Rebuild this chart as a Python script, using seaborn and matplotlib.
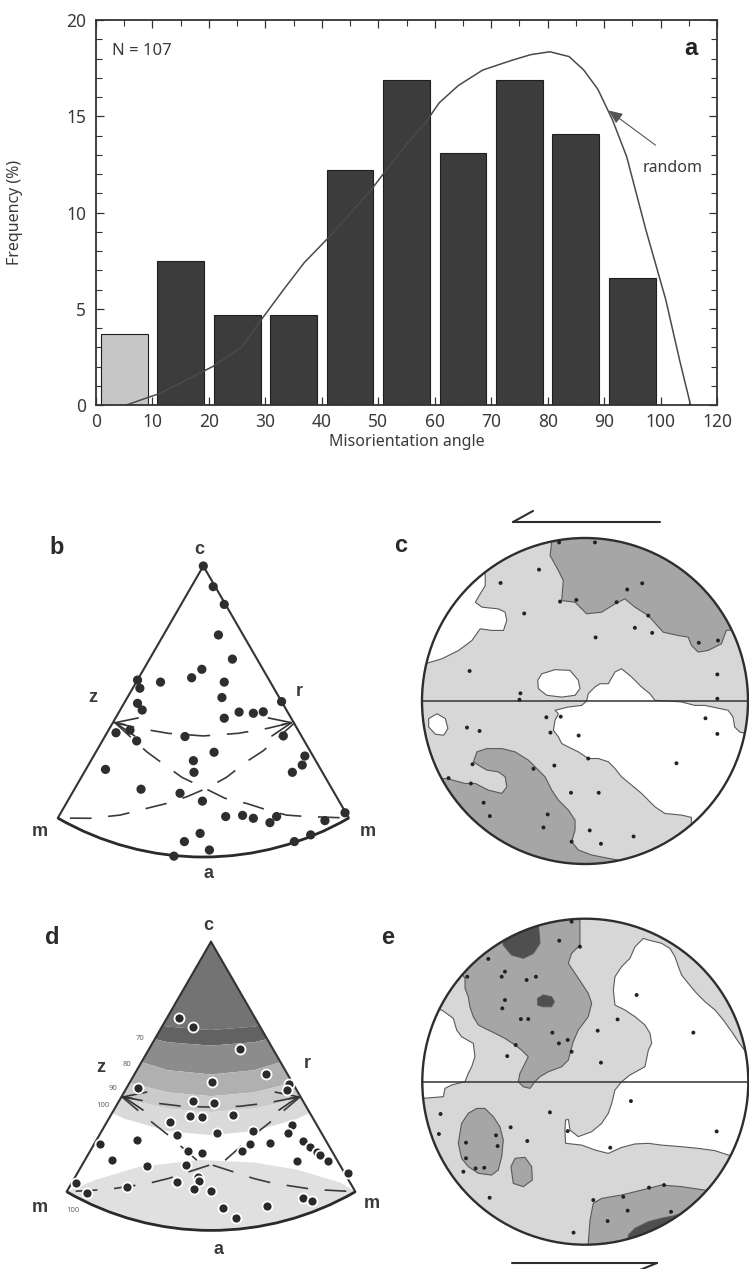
import numpy as np
import pandas as pd
import matplotlib
matplotlib.use("Agg")
import matplotlib.pyplot as plt
import seaborn as sns
from matplotlib.patches import Wedge, Circle, Polygon, Arc
from matplotlib.ticker import MultipleLocator, FixedLocator

# ---------------- panel a data ----------------
bin_centers = [5, 15, 25, 35, 45, 55, 65, 75, 85, 95]
freq = [3.7, 7.5, 4.7, 4.7, 12.2, 16.9, 13.1, 16.9, 14.1, 6.6]
bin_group = ["low"] + ["high"] * 9
random_x = [5.4, 8.8, 11.3, 17.3, 20.7, 25.8, 29.2, 33.5, 36.9, 41.2, 44.6, 48.8, 51.4,
            55.7, 58.2, 60.8, 64.2, 68.5, 73.6, 77.0, 80.4, 83.8, 86.4, 88.9, 91.5,
            94.0, 97.4, 100.9, 103.4, 105.1, 105.3]
random_y = [0.0, 0.35, 0.6, 1.5, 2.0, 3.0, 4.4, 6.1, 7.4, 8.7, 9.8, 11.2, 12.2,
            13.8, 14.6, 15.7, 16.6, 17.4, 17.9, 18.2, 18.35, 18.1, 17.4, 16.4, 14.8,
            12.9, 9.1, 5.5, 2.3, 0.26, 0.0]
xtick_vals = [0, 10, 20, 30, 40, 50, 60, 70, 80, 90, 100, 110]
xtick_labels = ["0", "10", "20", "30", "40", "50", "60", "70", "80", "90", "100", "120"]
ytick_vals = [0, 5, 10, 15, 20]

# ---------------- panel b (inverse pole figure, % of radius, apex at 0,0, y down) ----------------
b_x = [0, 3.4, 7.2, 5.2, 10, -0.5, -4, -14.7, -22.6, -21.8, 7.2, 6.4, -22.6, -21, 12.3, 17.2,
       20.6, 26.9, 7.2, -30, -25.2, -22.9, -6.3, 27.5, 3.7, -3.4, -3.2, 34.9, 34, 30.6, -33.6,
       -21.4, -8, -0.3, 7.7, 13.5, 17.2, 22.9, 25.2, 41.8, 48.7, -1.1, -6.5, 2.1, -10.1, 31.3, 36.9]
b_y = [0, 7.1, 13.2, 23.7, 32, 35.5, 38.4, 39.9, 39.2, 42, 39.9, 45.2, 47.2, 49.5, 50.2, 50.6,
       50.1, 46.6, 52.3, 57.3, 56.4, 60.1, 58.6, 58.4, 64, 66.9, 70.9, 65.3, 68.4, 70.9, 69.9,
       76.7, 78.1, 80.8, 86.1, 85.7, 86.7, 88.2, 86.1, 87.5, 84.8, 91.9, 94.7, 97.6, 99.7, 94.7, 92.4]
b_zr_x = [-31, -22, -12, 0, 12, 22, 31]
b_zr_y = [53.7, 55.8, 57.5, 58.4, 57.5, 55.8, 53.7]
b_l1_x = [-30.4, -19.5, -13.2, -7.4, -1.1, 7.4, 14.9, 21.8, 28.6, 35.5, 50]
b_l1_y = [53.8, 63.8, 68.4, 72.6, 75.6, 79.8, 81.6, 83.8, 85.6, 86.1, 86.6]
b_l2_x = [31.5, 20.6, 14.9, 8, 1.1, -5.7, -12.6, -19.5, -28.6, -38.9, -50]
b_l2_y = [53.8, 63.5, 67.2, 72.6, 76.4, 79.3, 81.6, 83.3, 85.6, 86.7, 86.6]

# ---------------- panel d ----------------
d_x = [-11.1, -6.1, 10.2, 19.1, 0.5, -25.2, 27.1, 26.4, -6.1, 1.2, -7.4, -3, 7.5, -14.2, 28.2,
       -11.7, 2, 14.7, 26.6, -38.5, -25.8, 13.5, 20.4, 32, 34.3, 36.6, 37.8, 40.6, -7.9, -3,
       10.6, -34.4, -22.3, -8.8, 29.7, -4.4, -4, -11.9, -5.9, -0.1, -46.9, -43.1, -29.2, 47.6,
       32, 34.9, 19.3, 4, 8.7]
d_y = [26.3, 29.4, 37.3, 45.8, 48.7, 50.8, 49.4, 51.4, 55.2, 56, 60.3, 60.6, 60, 62.4, 63.5,
       67, 66.4, 65.6, 66.4, 69.9, 68.7, 69.9, 69.6, 68.9, 71, 72.7, 73.9, 75.9, 72.5, 73.3,
       72.5, 75.6, 77.7, 77.4, 75.9, 81.4, 82.8, 83.1, 85.8, 86.3, 83.5, 87, 84.9, 80, 88.9,
       89.7, 91.5, 92.4, 95.8]
d_zr_x = [-31, -20, -10, 0, 10, 20, 31]
d_zr_y = [53.6, 55.8, 57, 57.3, 57, 55.8, 53.6]
d_l1_x = [-30.9, -20, -14.8, -5, 7.7, 14.7, 21.6, 35.5, 50]
d_l1_y = [53.7, 62.9, 67, 75.6, 79.7, 82, 83.7, 85.8, 86.6]
d_l2_x = [30.9, 20, 14.8, 5, -7.7, -14.7, -21.6, -35.5, -50]
d_l2_y = [53.7, 62.9, 67, 75.6, 79.7, 82, 83.7, 85.8, 86.6]
band_x = [-60, -45, -30, -15, 0, 15, 30, 45, 60]
band_bounds = [
    [-10, -10, -10, -10, -10, -10, -10, -10, -10],
    [10.8, 19.5, 25.6, 29.4, 30.6, 29.4, 25.6, 19.5, 10.8],
    [17.3, 25.5, 31.3, 34.8, 36.0, 34.8, 31.3, 25.5, 17.3],
    [21.5, 32.2, 39.9, 44.5, 46.0, 44.5, 39.9, 32.2, 21.5],
    [33.3, 42.1, 48.4, 52.2, 53.5, 52.2, 48.4, 42.1, 33.3],
    [40.5, 48.6, 54.4, 57.8, 59.0, 57.8, 54.4, 48.6, 40.5],
    [44.0, 54.1, 61.3, 65.6, 67.0, 65.6, 61.3, 54.1, 44.0],
]
band_colors = ["#737373", "#626262", "#8c8c8c", "#b0b0b0", "#cacaca", "#dadada"]
lens_x = [-55, -50, -40, -25, -4, 15, 30, 45, 50, 55]
lens_y = [88, 86.6, 82.5, 78, 75.6, 76.5, 79, 83.5, 86.6, 88]
d_contour_labels = ["70", "80", "90", "100", "100"]
d_contour_lx = [-24.6, -29.1, -33.9, -37.4, -47.8]
d_contour_ly = [33.4, 42.4, 50.7, 56.6, 93.0]

# ---------------- panel c (stereonet, % of radius, y up) ----------------
c_white = [
    [(-98, 22.9), (-87.8, 25.9), (-77.6, 31), (-69.4, 37.1), (-64.3, 44.3), (-57.1, 43.3),
     (-50, 43.3), (-48, 49.4), (-49, 54.5), (-53.1, 56.5), (-63.3, 57.6), (-67.3, 60.6),
     (-64.3, 65.7), (-61.2, 70.8), (-61.2, 76.9), (-62, 90), (-110, 90), (-110, 22)],
    [(-26.5, 16.7), (-18.4, 19.2), (-9.2, 18.8), (-4.1, 12.7), (-3.1, 7.6), (-6.1, 3.5),
     (-14.3, 2.4), (-23.5, 3.5), (-28.6, 7.6), (-29, 12.7)],
    [(-95.9, -10.8), (-90.8, -7.8), (-85.7, -10.8), (-84.1, -16.9), (-86.7, -21), (-91.8, -20.4),
     (-95.9, -15.9)],
    [(1, 0), (2, 4.5), (6.1, 8.6), (9.2, 10.6), (14.3, 10.6), (18.4, 17.8), (22.4, 19.8),
     (28.6, 14.7), (34.7, 8.6), (39.8, 4.5), (42.9, 0.4), (51, 0), (59.2, -0.6), (67.3, -2.7),
     (73.5, -2.7), (87.8, -5.7), (90.8, -9.8), (91.8, -15.9), (94.9, -19), (100, -20.4),
     (115, -20), (115, -85), (65, -85), (65.3, -71.4), (59.2, -70), (49, -69), (42.9, -64.9),
     (38.8, -60.8), (34.7, -56.7), (28.6, -51.6), (22.4, -46.5), (18.4, -41.4), (14.3, -37.3),
     (8.2, -35.3), (2, -35.3), (-4.1, -31.2), (-10.2, -28.2), (-14.3, -26.1), (-16.3, -22),
     (-19.4, -18), (-18.4, -11.8), (-16.3, -7.8), (-18.4, -5.7), (-14.3, -4.7), (-10.2, -3.7),
     (-2, -2.7)],
]
c_mid = [
    [(-20.4, 110), (-20.4, 98.4), (-21.4, 89.2), (-16.3, 80), (-13.3, 73.9), (-14.3, 61.6),
     (-6.1, 60.6), (1, 53.5), (10.2, 54.5), (18.4, 59.6), (24.5, 62.7), (30.6, 57.6),
     (38.8, 52.4), (48, 42.2), (57.1, 40.2), (63.3, 39.2), (65.3, 34.1), (69.4, 30),
     (75.5, 31), (83.7, 35.1), (86.7, 43.3), (110, 45), (110, 110)],
    [(-84.7, -47.6), (-73.5, -50.6), (-67.3, -50.6), (-59.2, -54.7), (-51, -56.7), (-48, -52.7),
     (-49, -46.5), (-53.1, -43.5), (-60.2, -42.4), (-65.3, -39.4), (-68.4, -37.3), (-66.3, -31.2),
     (-60.2, -29.2), (-51, -29.2), (-42.9, -31.2), (-34.7, -36.3), (-28.6, -42.4), (-24.5, -46.5),
     (-20.4, -54.7), (-16.3, -60.8), (-10.2, -66.9), (-6.1, -73.1), (-6.1, -79.2), (-8.2, -86.3),
     (-4.1, -91.4), (4.1, -94.5), (14.3, -96.5), (20.4, -97.6), (20, -115), (-110, -115),
     (-110, -48)],
]
c_dark = []
c_dot_u = [-15.9, 6.1, -28.2, -51.8, 35.1, 25.9, -5.3, -15.3, 19.4, -37.3, 38.8, 30.6, 41.2,
           6.5, 69.8, 81.6, -70.8, 81.2, -39.6, -40.2, 81.2, -23.7, -14.9, -72.4, -64.7, -21.2,
           -3.9, 73.9, 81.2, 56.1, -69, 2, -31.6, -18.8, -83.7, -70, -62.2, -58.4, -22.9, -8.6,
           8.4, -25.5, 2.9, 9.8, 29.8, -8.2]
c_dot_v = [97.3, 97.3, 80.6, 72.4, 72.2, 68.4, 62, 61, 60.6, 53.7, 52.4, 44.9, 41.8, 39, 35.7,
           37.1, 18.4, 16.3, 4.7, 0.8, 1.4, -10, -9.6, -16.3, -18.4, -19.4, -21.2, -10.6, -20.2,
           -38.2, -38.8, -35.3, -41.6, -39.6, -47.3, -50.6, -62.4, -70.6, -69.6, -56.3, -56.3,
           -77.6, -79.4, -87.6, -83.1, -86.3]

# ---------------- panel e ----------------
e_white = [
    [(35.6, 87.9), (38.7, 86.9), (46.8, 84.9), (51.9, 81.8), (55, 76.7), (57.1, 70.6), (59.1, 65.4),
     (63.2, 60.3), (68.3, 54.2), (73.4, 49.1), (79.6, 44), (84.7, 37.8), (89.8, 30.7), (93.9, 24.5),
     (99, 17.4), (115, 17), (115, -46), (87.7, -45), (79.6, -42.3), (69.3, -40.9), (59.1, -39.9),
     (46.8, -38.9), (38.7, -37.8), (30.5, -38.2), (22.3, -40.3), (14.1, -44), (5.9, -41.9),
     (-2.2, -38.9), (-12.1, -37.8), (-12.5, -29.7), (-12.1, -23.5), (-10.4, -23.1), (-9.4, -29.7),
     (-4.3, -33.7), (3.9, -30.7), (10, -25.6), (14.1, -19.4), (16.2, -13.3), (18.2, -5.1),
     (22.3, 0), (27.4, 4.1), (36.6, 9.2), (38.7, 19.4), (40.7, 23.5), (39.7, 29.7), (36.6, 34.8),
     (30.5, 39.9), (24.3, 44), (18.2, 47), (17.2, 56.2), (18.2, 64.4), (22.3, 70.6), (27.4, 75.7),
     (30.5, 82.8)],
    [(-88.1, 44), (-81, 38.9), (-78.9, 31.7), (-75.9, 27.6), (-68.7, 23.5), (-67.7, 15.3),
     (-69.7, 9.2), (-71.8, 5.1), (-73.8, 0), (-82, -2), (-86.1, -4.1), (-87.1, -9.2),
     (-99.4, -10.2), (-115, -10), (-115, 44)],
]
e_mid = [
    [(-3.3, 109), (-3.3, 99.2), (-3.3, 91), (-3.3, 83.8), (-8.4, 78.7), (-10.4, 72.6), (-6.3, 66.5),
     (-2.2, 60.3), (1.8, 54.2), (3.9, 48.1), (1.8, 39.9), (-1.2, 35.8), (-4.3, 31.7), (-7.4, 24.5),
     (-8.8, 19.4), (-10.4, 13.3), (-14.5, 9.2), (-22.7, 6.1), (-27.8, 3.1), (-30.9, 0),
     (-33.9, -4.1), (-38, -3.1), (-41.1, 0), (-40.1, 5.1), (-37, 11.2), (-35, 15.3), (-39.1, 19.4),
     (-43.1, 22.5), (-49.3, 26.6), (-55.4, 29.7), (-61.6, 32.7), (-65.6, 34.8), (-68.7, 39.9),
     (-70.8, 46), (-71.8, 52.1), (-73.8, 57.3), (-73.8, 63.4), (-75.9, 66.5), (-84, 74.6),
     (-43.1, 109)],
    [(-77.9, -37.8), (-75.9, -25.6), (-71.8, -19.4), (-66.7, -16.4), (-61.6, -16.4), (-56.4, -21.5),
     (-52.4, -27.6), (-50.3, -35.8), (-51.3, -46), (-53.4, -54.2), (-57.5, -57.3), (-65.6, -56.2),
     (-71.8, -52.1), (-75.9, -47)],
    [(-45.6, -52.1), (-43.1, -47), (-37, -46.4), (-32.9, -52.1), (-32.5, -60.3), (-38, -64.4),
     (-44.2, -62.4)],
    [(1.8, -99.2), (2.9, -84.9), (4.9, -74.6), (10, -71.6), (22.3, -69.5), (34.6, -66.5),
     (46.8, -63.4), (59.1, -64.4), (73.4, -66.5), (90, -66), (90, -115), (2, -115)],
]
e_dark = [
    [(-50.3, 83.8), (-51.3, 90), (-43.1, 97.1), (-28.8, 97.1), (-27.8, 84.9), (-31.9, 78.7),
     (-38, 75.7), (-45.2, 77.7)],
    [(-29.2, 51.1), (-25.8, 53.2), (-20.7, 52.1), (-19, 49.1), (-20.7, 46), (-25.8, 46), (-29.2, 47)],
    [(26.4, -94.1), (30.5, -90), (38.7, -85.9), (46.8, -83.8), (54, -82.4), (62, -80), (62, -115),
     (26, -115)],
]
e_dot_u = [-8.4, -16, -3.3, -59.5, -49.3, -51.3, -72.4, -36, -30.3, -49.3, -50.9, -39.5, -35,
           31.5, 19.8, 7.6, 66.3, -20.2, -16.2, -10.8, -8.4, -42.7, -47.9, 9.6, 28, -88.8, -21.7,
           -45.8, 80.6, -89.8, -10.8, -73.2, -54.8, -53.8, -35.6, 15.3, -73.2, -67.3, -62, -74.8,
           -58.7, 39.1, 48.3, 23.3, 4.9, 26, 13.7, 52.6, -7.2]
e_dot_v = [98.2, 86.5, 82.8, 75.3, 67.5, 64.4, 64.4, 62.4, 64.4, 50.1, 45, 38.4, 38.4, 53.2,
           38.2, 31.3, 30.1, 30.1, 23.5, 25.6, 18.4, 22.5, 15.7, 11.7, -11.9, -19.8, -18.8, -28,
           -30.5, -32.1, -30.3, -37.4, -32.9, -39.5, -36.4, -40.5, -47, -53.2, -52.8, -55.2,
           -71.2, -65, -63.4, -70.6, -72.6, -79.1, -85.5, -79.8, -92.6]

# ---------------- figure ----------------
W, H = 749, 1269
sns.set_theme(style="white")
plt.rcParams["font.family"] = ["Noto Sans", "DejaVu Sans"]
BOLD = ["Liberation Sans", "DejaVu Sans"]
TXT = "#3a3a3a"
fig = plt.figure(figsize=(W / 100, H / 100), dpi=100)


def px_axes(x0, y0, x1, y1):
    ax = fig.add_axes([x0 / W, 1 - y1 / H, (x1 - x0) / W, (y1 - y0) / H])
    ax.patch.set_alpha(0)
    return ax


def set_limits(ax, box, cx, cy, s, ydown):
    x0, y0, x1, y1 = box
    ax.set_xlim((x0 - cx) / s, (x1 - cx) / s)
    if ydown:
        ax.set_ylim((y1 - cy) / s, (y0 - cy) / s)
    else:
        ax.set_ylim((cy - y1) / s, (cy - y0) / s)
    ax.axis("off")


# ---- panel a ----
axA = px_axes(96, 20, 717, 405)
dfa = pd.DataFrame({"center": bin_centers, "freq": freq, "group": bin_group})
sns.barplot(data=dfa, x="center", y="freq", hue="group",
            palette={"low": "#c6c6c6", "high": "#3c3c3c"}, native_scale=True,
            width=0.83, dodge=False, legend=False, edgecolor="#1e1e1e", linewidth=0.8,
            saturation=1, ax=axA)
sns.lineplot(x=random_x, y=random_y, ax=axA, color="#4a4a4a", linewidth=1.1,
             sort=False, estimator=None)
axA.set_xlim(0, 110)
axA.set_ylim(0, 20)
axA.xaxis.set_major_locator(FixedLocator(xtick_vals))
axA.set_xticklabels(xtick_labels)
axA.xaxis.set_minor_locator(MultipleLocator(5))
axA.yaxis.set_major_locator(FixedLocator(ytick_vals))
axA.yaxis.set_minor_locator(MultipleLocator(1))
axA.tick_params(which="both", direction="in", top=True, right=True, bottom=True, left=True,
                colors="#333333", labelcolor=TXT, labelsize=12.5)
axA.tick_params(which="major", length=6, width=0.9)
axA.tick_params(which="minor", length=4, width=0.8)
axA.tick_params(axis="x", pad=6)
axA.tick_params(axis="y", pad=7)
for sp in axA.spines.values():
    sp.set_color("#333333")
    sp.set_linewidth(1.3)
axA.set_xlabel("Misorientation angle", fontsize=11.5, color=TXT)
axA.set_ylabel("Frequency (%)", fontsize=11.5, color=TXT)
axA.xaxis.set_label_coords(0.5, -(434 - 405) / 385)
axA.yaxis.set_label_coords(-(96 - 23) / 621, 0.5)
axA.text(2.8, 18.4, "N = 107", fontsize=12, color=TXT, ha="left", va="center")
axA.text(105.3, 18.5, "a", fontsize=17, fontweight="bold", family=BOLD, color="#222222",
         ha="center", va="center")
axA.annotate("", xy=(90.8, 15.3), xytext=(99.1, 13.5),
             arrowprops=dict(arrowstyle="-|>,head_length=0.7,head_width=0.3",
                             color="#555555", lw=0.8, shrinkA=0, shrinkB=0))
axA.text(102.1, 12.3, "random", fontsize=11.5, color=TXT, ha="center", va="center")


# ---- sector panels ----
def draw_sector(ax, px, py, zr, l1, l2, dot_kw, bands=False):
    clip = Wedge((0, 0), 100, 60, 120, transform=ax.transData)
    if bands:
        for i, col in enumerate(band_colors):
            top = band_bounds[i]
            bot = band_bounds[i + 1]
            pts = list(zip(band_x, top)) + list(zip(band_x[::-1], bot[::-1]))
            pg = Polygon(pts, closed=True, facecolor=col, edgecolor="none", zorder=1)
            ax.add_patch(pg)
            pg.set_clip_path(clip)
        pts = list(zip(lens_x, lens_y)) + [(60, 115), (-60, 115)]
        pg = Polygon(pts, closed=True, facecolor="#e0e0e0", edgecolor="none", zorder=1)
        ax.add_patch(pg)
        pg.set_clip_path(clip)
    ax.plot([0, -50], [0, 86.6], color="#333333", lw=1.5, zorder=3, solid_capstyle="round")
    ax.plot([0, 50], [0, 86.6], color="#333333", lw=1.5, zorder=3, solid_capstyle="round")
    ax.add_patch(Arc((0, 0), 200, 200, theta1=60, theta2=120, color="#2a2a2a", lw=2.0, zorder=3))
    for xs, ys in (zr, l1, l2):
        ax.plot(xs, ys, color="#3a3a3a", lw=1.2, dashes=(13, 10), zorder=2)
    z = (zr[0][0], zr[1][0])
    r = (zr[0][-1], zr[1][-1])
    ap = dict(arrowstyle="->,head_length=1.3,head_width=0.55", color="#333333", lw=1.2,
              shrinkA=0, shrinkB=0)
    ax.annotate("", xy=z, xytext=(z[0] + 4, z[1] + 0.8), arrowprops=ap, zorder=4)
    ax.annotate("", xy=r, xytext=(r[0] - 4, r[1] + 0.8), arrowprops=ap, zorder=4)
    sns.scatterplot(x=px, y=py, ax=ax, legend=False, zorder=5, **dot_kw)


boxB = (20, 530, 390, 895)
axB = px_axes(*boxB)
draw_sector(axB, b_x, b_y, (b_zr_x, b_zr_y), (b_l1_x, b_l1_y), (b_l2_x, b_l2_y),
            dict(color="#2e2e2e", s=44, edgecolor="none"))
set_limits(axB, boxB, 203.3, 566, 2.91, True)

boxD = (20, 900, 390, 1269)
axD = px_axes(*boxD)
draw_sector(axD, d_x, d_y, (d_zr_x, d_zr_y), (d_l1_x, d_l1_y), (d_l2_x, d_l2_y),
            dict(color="#2a2a2a", s=52, edgecolor="white", linewidth=1.3), bands=True)
for lab, lx, ly in zip(d_contour_labels, d_contour_lx, d_contour_ly):
    axD.text(lx, ly, lab, fontsize=5.5, color="#666666", ha="center", va="center")
set_limits(axD, boxD, 211, 941.7, 2.887, True)


# ---- stereonets ----
def draw_net(ax, whites, mids, darks, du, dv):
    base = Circle((0, 0), 100, facecolor="#d7d7d7", edgecolor="none", zorder=0)
    ax.add_patch(base)
    clip = Circle((0, 0), 100, transform=ax.transData)
    for group, col in ((whites, "white"), (mids, "#a6a6a6"), (darks, "#4f4f4f")):
        for pts in group:
            pg = Polygon(pts, closed=True, facecolor=col, edgecolor="#5a5a5a", lw=0.8, zorder=1)
            ax.add_patch(pg)
            pg.set_clip_path(clip)
    ax.add_patch(Circle((0, 0), 100, facecolor="none", edgecolor="#2e2e2e", lw=1.7, zorder=3))
    ax.plot([-100, 100], [0, 0], color="#333333", lw=1.1, zorder=3)
    sns.scatterplot(x=du, y=dv, ax=ax, color="#222222", s=8, edgecolor="none",
                    legend=False, zorder=4)


boxC = (380, 495, 749, 880)
axC = px_axes(*boxC)
draw_net(axC, c_white, c_mid, c_dark, c_dot_u, c_dot_v)
axC.plot([-44.2, 46], [109.8, 109.8], color="#2e2e2e", lw=1.5, clip_on=False)
axC.plot([-44.2, -31.9], [109.8, 116.6], color="#2e2e2e", lw=1.5, clip_on=False)
set_limits(axC, boxC, 585, 701, 1.63, False)

boxE = (380, 885, 749, 1269)
axE = px_axes(*boxE)
draw_net(axE, e_white, e_mid, e_dark, e_dot_u, e_dot_v)
axE.plot([-45, 44], [-111.2, -111.2], color="#2e2e2e", lw=1.5, clip_on=False)
axE.plot([44, 33.6], [-111.2, -115.5], color="#2e2e2e", lw=1.5, clip_on=False)
set_limits(axE, boxE, 585.3, 1081.7, 1.63, False)

# ---- labels ----
def ftext(x, y, s, size=13, color="#3a3a3a"):
    fig.text(x / W, 1 - y / H, s, fontsize=size, fontweight="bold", family=BOLD,
             color=color, ha="center", va="center")

for (x, y, s) in [(57, 547, "b"), (401, 545, "c"), (52, 938, "d"), (388, 937, "e")]:
    ftext(x, y, s, size=17, color="#2a2a2a")
for (x, y, s) in [(199, 550, "c"), (93, 697, "z"), (299, 691, "r"), (40, 832, "m"),
                  (368, 832, "m"), (208, 873, "a"),
                  (208, 925, "c"), (101, 1068, "z"), (307, 1063, "r"), (40, 1208, "m"),
                  (372, 1203, "m"), (218, 1250, "a")]:
    ftext(x, y, s, size=13)

fig.savefig("out.png", dpi=100)
